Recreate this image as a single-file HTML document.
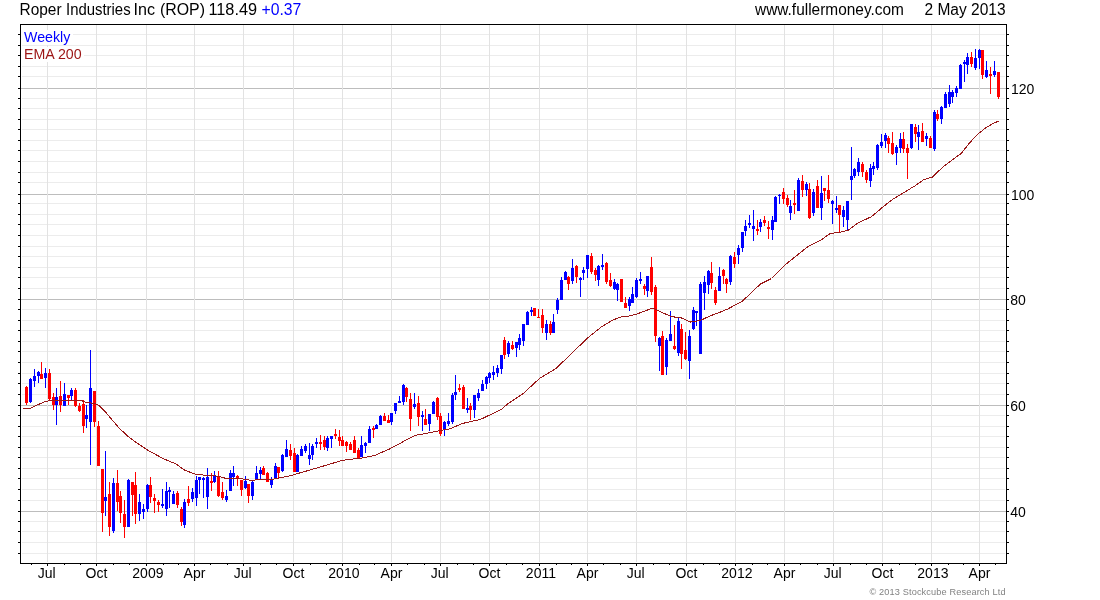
<!DOCTYPE html>
<html><head><meta charset="utf-8"><title>Roper Industries Inc (ROP)</title>
<style>html,body{margin:0;padding:0;background:#fff}body{width:1100px;height:600px;overflow:hidden}svg{display:block}text{font-family:"Liberation Sans",Arial,sans-serif}</style>
</head><body>
<svg width="1100" height="600" viewBox="0 0 1100 600" shape-rendering="crispEdges" font-family="Liberation Sans, Arial, sans-serif">
<rect x="22" y="553" width="983" height="1" fill="#ececec"/>
<rect x="22" y="542" width="983" height="1" fill="#ececec"/>
<rect x="22" y="531" width="983" height="1" fill="#ececec"/>
<rect x="22" y="521" width="983" height="1" fill="#ececec"/>
<rect x="21" y="511" width="985" height="1" fill="#bdbdbd"/>
<rect x="22" y="500" width="983" height="1" fill="#ececec"/>
<rect x="22" y="489" width="983" height="1" fill="#ececec"/>
<rect x="22" y="478" width="983" height="1" fill="#ececec"/>
<rect x="22" y="468" width="983" height="1" fill="#ececec"/>
<rect x="22" y="457" width="983" height="1" fill="#ececec"/>
<rect x="22" y="447" width="983" height="1" fill="#ececec"/>
<rect x="22" y="436" width="983" height="1" fill="#ececec"/>
<rect x="22" y="426" width="983" height="1" fill="#ececec"/>
<rect x="22" y="415" width="983" height="1" fill="#ececec"/>
<rect x="21" y="405" width="985" height="1" fill="#bdbdbd"/>
<rect x="22" y="394" width="983" height="1" fill="#ececec"/>
<rect x="22" y="383" width="983" height="1" fill="#ececec"/>
<rect x="22" y="373" width="983" height="1" fill="#ececec"/>
<rect x="22" y="362" width="983" height="1" fill="#ececec"/>
<rect x="22" y="351" width="983" height="1" fill="#ececec"/>
<rect x="22" y="341" width="983" height="1" fill="#ececec"/>
<rect x="22" y="330" width="983" height="1" fill="#ececec"/>
<rect x="22" y="320" width="983" height="1" fill="#ececec"/>
<rect x="22" y="309" width="983" height="1" fill="#ececec"/>
<rect x="21" y="299" width="985" height="1" fill="#bdbdbd"/>
<rect x="22" y="288" width="983" height="1" fill="#ececec"/>
<rect x="22" y="277" width="983" height="1" fill="#ececec"/>
<rect x="22" y="267" width="983" height="1" fill="#ececec"/>
<rect x="22" y="256" width="983" height="1" fill="#ececec"/>
<rect x="22" y="246" width="983" height="1" fill="#ececec"/>
<rect x="22" y="235" width="983" height="1" fill="#ececec"/>
<rect x="22" y="224" width="983" height="1" fill="#ececec"/>
<rect x="22" y="214" width="983" height="1" fill="#ececec"/>
<rect x="22" y="203" width="983" height="1" fill="#ececec"/>
<rect x="21" y="194" width="985" height="1" fill="#bdbdbd"/>
<rect x="22" y="182" width="983" height="1" fill="#ececec"/>
<rect x="22" y="172" width="983" height="1" fill="#ececec"/>
<rect x="22" y="161" width="983" height="1" fill="#ececec"/>
<rect x="22" y="150" width="983" height="1" fill="#ececec"/>
<rect x="22" y="140" width="983" height="1" fill="#ececec"/>
<rect x="22" y="129" width="983" height="1" fill="#ececec"/>
<rect x="22" y="119" width="983" height="1" fill="#ececec"/>
<rect x="22" y="108" width="983" height="1" fill="#ececec"/>
<rect x="22" y="98" width="983" height="1" fill="#ececec"/>
<rect x="21" y="88" width="985" height="1" fill="#bdbdbd"/>
<rect x="22" y="76" width="983" height="1" fill="#ececec"/>
<rect x="22" y="66" width="983" height="1" fill="#ececec"/>
<rect x="22" y="55" width="983" height="1" fill="#ececec"/>
<rect x="22" y="45" width="983" height="1" fill="#ececec"/>
<rect x="22" y="34" width="983" height="1" fill="#ececec"/>
<rect x="47" y="25" width="1" height="537" fill="#e2e2e2"/>
<rect x="96" y="25" width="1" height="537" fill="#e2e2e2"/>
<rect x="146" y="25" width="1" height="537" fill="#e2e2e2"/>
<rect x="194" y="25" width="1" height="537" fill="#e2e2e2"/>
<rect x="243" y="25" width="1" height="537" fill="#e2e2e2"/>
<rect x="293" y="25" width="1" height="537" fill="#e2e2e2"/>
<rect x="342" y="25" width="1" height="537" fill="#e2e2e2"/>
<rect x="391" y="25" width="1" height="537" fill="#e2e2e2"/>
<rect x="440" y="25" width="1" height="537" fill="#e2e2e2"/>
<rect x="489" y="25" width="1" height="537" fill="#e2e2e2"/>
<rect x="539" y="25" width="1" height="537" fill="#e2e2e2"/>
<rect x="587" y="25" width="1" height="537" fill="#e2e2e2"/>
<rect x="636" y="25" width="1" height="537" fill="#e2e2e2"/>
<rect x="686" y="25" width="1" height="537" fill="#e2e2e2"/>
<rect x="735" y="25" width="1" height="537" fill="#e2e2e2"/>
<rect x="784" y="25" width="1" height="537" fill="#e2e2e2"/>
<rect x="833" y="25" width="1" height="537" fill="#e2e2e2"/>
<rect x="882" y="25" width="1" height="537" fill="#e2e2e2"/>
<rect x="931" y="25" width="1" height="537" fill="#e2e2e2"/>
<rect x="979" y="25" width="1" height="537" fill="#e2e2e2"/>
<rect x="21" y="30" width="52" height="15" fill="#ffffff"/>
<rect x="21" y="47" width="63" height="15" fill="#ffffff"/>
<rect x="26" y="386" width="1" height="19" fill="#ff0000"/>
<rect x="25" y="387" width="3" height="16" fill="#ff0000"/>
<rect x="30" y="378" width="1" height="25" fill="#0000ff"/>
<rect x="29" y="379" width="3" height="23" fill="#0000ff"/>
<rect x="34" y="369" width="1" height="18" fill="#0000ff"/>
<rect x="33" y="376" width="3" height="5" fill="#0000ff"/>
<rect x="38" y="371" width="1" height="12" fill="#0000ff"/>
<rect x="37" y="372" width="3" height="4" fill="#0000ff"/>
<rect x="41" y="362" width="1" height="17" fill="#ff0000"/>
<rect x="40" y="374" width="3" height="5" fill="#ff0000"/>
<rect x="45" y="368" width="1" height="20" fill="#0000ff"/>
<rect x="44" y="373" width="3" height="5" fill="#0000ff"/>
<rect x="49" y="369" width="1" height="31" fill="#ff0000"/>
<rect x="48" y="373" width="3" height="26" fill="#ff0000"/>
<rect x="53" y="393" width="1" height="17" fill="#ff0000"/>
<rect x="52" y="397" width="3" height="8" fill="#ff0000"/>
<rect x="56" y="388" width="1" height="37" fill="#0000ff"/>
<rect x="55" y="397" width="3" height="8" fill="#0000ff"/>
<rect x="60" y="381" width="1" height="31" fill="#ff0000"/>
<rect x="59" y="396" width="3" height="9" fill="#ff0000"/>
<rect x="64" y="383" width="1" height="23" fill="#0000ff"/>
<rect x="63" y="394" width="3" height="12" fill="#0000ff"/>
<rect x="68" y="395" width="1" height="10" fill="#ff0000"/>
<rect x="67" y="395" width="3" height="3" fill="#ff0000"/>
<rect x="71" y="388" width="1" height="12" fill="#0000ff"/>
<rect x="70" y="390" width="3" height="6" fill="#0000ff"/>
<rect x="75" y="388" width="1" height="19" fill="#ff0000"/>
<rect x="74" y="390" width="3" height="16" fill="#ff0000"/>
<rect x="79" y="403" width="1" height="9" fill="#ff0000"/>
<rect x="78" y="406" width="3" height="5" fill="#ff0000"/>
<rect x="83" y="400" width="1" height="33" fill="#ff0000"/>
<rect x="82" y="404" width="3" height="22" fill="#ff0000"/>
<rect x="86" y="405" width="1" height="23" fill="#0000ff"/>
<rect x="85" y="415" width="3" height="4" fill="#0000ff"/>
<rect x="90" y="350" width="1" height="115" fill="#0000ff"/>
<rect x="89" y="388" width="3" height="34" fill="#0000ff"/>
<rect x="94" y="391" width="1" height="36" fill="#ff0000"/>
<rect x="93" y="391" width="3" height="31" fill="#ff0000"/>
<rect x="98" y="421" width="1" height="45" fill="#ff0000"/>
<rect x="97" y="426" width="3" height="40" fill="#ff0000"/>
<rect x="102" y="469" width="1" height="63" fill="#ff0000"/>
<rect x="101" y="469" width="3" height="44" fill="#ff0000"/>
<rect x="105" y="451" width="1" height="65" fill="#0000ff"/>
<rect x="104" y="497" width="3" height="4" fill="#0000ff"/>
<rect x="109" y="482" width="1" height="54" fill="#ff0000"/>
<rect x="108" y="494" width="3" height="33" fill="#ff0000"/>
<rect x="113" y="478" width="1" height="55" fill="#0000ff"/>
<rect x="112" y="483" width="3" height="48" fill="#0000ff"/>
<rect x="117" y="470" width="1" height="41" fill="#ff0000"/>
<rect x="116" y="483" width="3" height="19" fill="#ff0000"/>
<rect x="120" y="491" width="1" height="32" fill="#ff0000"/>
<rect x="119" y="496" width="3" height="17" fill="#ff0000"/>
<rect x="124" y="500" width="1" height="38" fill="#ff0000"/>
<rect x="123" y="514" width="3" height="13" fill="#ff0000"/>
<rect x="128" y="479" width="1" height="48" fill="#0000ff"/>
<rect x="127" y="480" width="3" height="47" fill="#0000ff"/>
<rect x="132" y="482" width="1" height="34" fill="#ff0000"/>
<rect x="131" y="482" width="3" height="13" fill="#ff0000"/>
<rect x="135" y="472" width="1" height="52" fill="#ff0000"/>
<rect x="134" y="485" width="3" height="29" fill="#ff0000"/>
<rect x="139" y="494" width="1" height="27" fill="#0000ff"/>
<rect x="138" y="502" width="3" height="12" fill="#0000ff"/>
<rect x="143" y="504" width="1" height="15" fill="#0000ff"/>
<rect x="142" y="509" width="3" height="3" fill="#0000ff"/>
<rect x="147" y="484" width="1" height="28" fill="#0000ff"/>
<rect x="146" y="485" width="3" height="24" fill="#0000ff"/>
<rect x="150" y="477" width="1" height="26" fill="#ff0000"/>
<rect x="149" y="485" width="3" height="12" fill="#ff0000"/>
<rect x="154" y="494" width="1" height="19" fill="#ff0000"/>
<rect x="153" y="498" width="3" height="3" fill="#ff0000"/>
<rect x="158" y="500" width="1" height="12" fill="#ff0000"/>
<rect x="157" y="502" width="3" height="3" fill="#ff0000"/>
<rect x="162" y="489" width="1" height="19" fill="#0000ff"/>
<rect x="161" y="504" width="3" height="2" fill="#0000ff"/>
<rect x="166" y="482" width="1" height="34" fill="#0000ff"/>
<rect x="165" y="491" width="3" height="18" fill="#0000ff"/>
<rect x="169" y="487" width="1" height="21" fill="#0000ff"/>
<rect x="168" y="490" width="3" height="2" fill="#0000ff"/>
<rect x="173" y="491" width="1" height="13" fill="#0000ff"/>
<rect x="172" y="494" width="3" height="10" fill="#0000ff"/>
<rect x="177" y="491" width="1" height="17" fill="#ff0000"/>
<rect x="176" y="493" width="3" height="12" fill="#ff0000"/>
<rect x="181" y="507" width="1" height="19" fill="#ff0000"/>
<rect x="180" y="509" width="3" height="13" fill="#ff0000"/>
<rect x="184" y="499" width="1" height="29" fill="#0000ff"/>
<rect x="183" y="502" width="3" height="23" fill="#0000ff"/>
<rect x="188" y="486" width="1" height="20" fill="#ff0000"/>
<rect x="187" y="499" width="3" height="4" fill="#ff0000"/>
<rect x="192" y="488" width="1" height="14" fill="#0000ff"/>
<rect x="191" y="492" width="3" height="7" fill="#0000ff"/>
<rect x="196" y="476" width="1" height="30" fill="#0000ff"/>
<rect x="195" y="480" width="3" height="18" fill="#0000ff"/>
<rect x="199" y="477" width="1" height="17" fill="#0000ff"/>
<rect x="198" y="477" width="3" height="3" fill="#0000ff"/>
<rect x="203" y="477" width="1" height="21" fill="#0000ff"/>
<rect x="202" y="478" width="3" height="2" fill="#0000ff"/>
<rect x="207" y="468" width="1" height="41" fill="#0000ff"/>
<rect x="206" y="477" width="3" height="20" fill="#0000ff"/>
<rect x="211" y="473" width="1" height="18" fill="#ff0000"/>
<rect x="210" y="481" width="3" height="2" fill="#ff0000"/>
<rect x="214" y="471" width="1" height="12" fill="#0000ff"/>
<rect x="213" y="475" width="3" height="7" fill="#0000ff"/>
<rect x="218" y="471" width="1" height="26" fill="#ff0000"/>
<rect x="217" y="477" width="3" height="19" fill="#ff0000"/>
<rect x="222" y="482" width="1" height="18" fill="#ff0000"/>
<rect x="221" y="492" width="3" height="6" fill="#ff0000"/>
<rect x="226" y="490" width="1" height="12" fill="#0000ff"/>
<rect x="225" y="496" width="3" height="4" fill="#0000ff"/>
<rect x="230" y="470" width="1" height="21" fill="#0000ff"/>
<rect x="229" y="473" width="3" height="18" fill="#0000ff"/>
<rect x="233" y="466" width="1" height="20" fill="#0000ff"/>
<rect x="232" y="473" width="3" height="4" fill="#0000ff"/>
<rect x="237" y="475" width="1" height="11" fill="#ff0000"/>
<rect x="236" y="476" width="3" height="2" fill="#ff0000"/>
<rect x="241" y="480" width="1" height="16" fill="#ff0000"/>
<rect x="240" y="480" width="3" height="10" fill="#ff0000"/>
<rect x="245" y="476" width="1" height="13" fill="#0000ff"/>
<rect x="244" y="481" width="3" height="7" fill="#0000ff"/>
<rect x="248" y="484" width="1" height="19" fill="#ff0000"/>
<rect x="247" y="484" width="3" height="12" fill="#ff0000"/>
<rect x="252" y="480" width="1" height="20" fill="#0000ff"/>
<rect x="251" y="482" width="3" height="14" fill="#0000ff"/>
<rect x="256" y="466" width="1" height="13" fill="#0000ff"/>
<rect x="255" y="473" width="3" height="6" fill="#0000ff"/>
<rect x="260" y="467" width="1" height="12" fill="#0000ff"/>
<rect x="259" y="470" width="3" height="4" fill="#0000ff"/>
<rect x="263" y="466" width="1" height="9" fill="#ff0000"/>
<rect x="262" y="468" width="3" height="7" fill="#ff0000"/>
<rect x="267" y="472" width="1" height="10" fill="#ff0000"/>
<rect x="266" y="473" width="3" height="9" fill="#ff0000"/>
<rect x="271" y="477" width="1" height="11" fill="#0000ff"/>
<rect x="270" y="480" width="3" height="5" fill="#0000ff"/>
<rect x="275" y="463" width="1" height="15" fill="#0000ff"/>
<rect x="274" y="466" width="3" height="12" fill="#0000ff"/>
<rect x="278" y="467" width="1" height="12" fill="#ff0000"/>
<rect x="277" y="467" width="3" height="6" fill="#ff0000"/>
<rect x="282" y="454" width="1" height="18" fill="#0000ff"/>
<rect x="281" y="455" width="3" height="16" fill="#0000ff"/>
<rect x="286" y="440" width="1" height="17" fill="#0000ff"/>
<rect x="285" y="449" width="3" height="8" fill="#0000ff"/>
<rect x="290" y="444" width="1" height="16" fill="#ff0000"/>
<rect x="289" y="450" width="3" height="6" fill="#ff0000"/>
<rect x="294" y="448" width="1" height="24" fill="#ff0000"/>
<rect x="293" y="453" width="3" height="19" fill="#ff0000"/>
<rect x="297" y="454" width="1" height="18" fill="#0000ff"/>
<rect x="296" y="455" width="3" height="17" fill="#0000ff"/>
<rect x="301" y="446" width="1" height="10" fill="#0000ff"/>
<rect x="300" y="449" width="3" height="7" fill="#0000ff"/>
<rect x="305" y="444" width="1" height="9" fill="#0000ff"/>
<rect x="304" y="446" width="3" height="5" fill="#0000ff"/>
<rect x="309" y="443" width="1" height="22" fill="#0000ff"/>
<rect x="308" y="455" width="3" height="4" fill="#0000ff"/>
<rect x="312" y="444" width="1" height="16" fill="#0000ff"/>
<rect x="311" y="446" width="3" height="9" fill="#0000ff"/>
<rect x="316" y="438" width="1" height="10" fill="#0000ff"/>
<rect x="315" y="442" width="3" height="2" fill="#0000ff"/>
<rect x="320" y="435" width="1" height="15" fill="#ff0000"/>
<rect x="319" y="442" width="3" height="2" fill="#ff0000"/>
<rect x="324" y="436" width="1" height="14" fill="#ff0000"/>
<rect x="323" y="440" width="3" height="7" fill="#ff0000"/>
<rect x="327" y="436" width="1" height="15" fill="#0000ff"/>
<rect x="326" y="438" width="3" height="10" fill="#0000ff"/>
<rect x="331" y="436" width="1" height="12" fill="#0000ff"/>
<rect x="330" y="436" width="3" height="3" fill="#0000ff"/>
<rect x="335" y="429" width="1" height="10" fill="#ff0000"/>
<rect x="334" y="434" width="3" height="2" fill="#ff0000"/>
<rect x="339" y="430" width="1" height="16" fill="#ff0000"/>
<rect x="338" y="437" width="3" height="4" fill="#ff0000"/>
<rect x="342" y="436" width="1" height="10" fill="#ff0000"/>
<rect x="341" y="440" width="3" height="6" fill="#ff0000"/>
<rect x="346" y="441" width="1" height="11" fill="#ff0000"/>
<rect x="345" y="442" width="3" height="4" fill="#ff0000"/>
<rect x="350" y="442" width="1" height="8" fill="#ff0000"/>
<rect x="349" y="444" width="3" height="6" fill="#ff0000"/>
<rect x="354" y="436" width="1" height="17" fill="#ff0000"/>
<rect x="353" y="440" width="3" height="13" fill="#ff0000"/>
<rect x="358" y="448" width="1" height="10" fill="#ff0000"/>
<rect x="357" y="450" width="3" height="8" fill="#ff0000"/>
<rect x="361" y="436" width="1" height="21" fill="#0000ff"/>
<rect x="360" y="445" width="3" height="12" fill="#0000ff"/>
<rect x="365" y="442" width="1" height="11" fill="#0000ff"/>
<rect x="364" y="443" width="3" height="3" fill="#0000ff"/>
<rect x="369" y="426" width="1" height="17" fill="#0000ff"/>
<rect x="368" y="429" width="3" height="14" fill="#0000ff"/>
<rect x="373" y="426" width="1" height="12" fill="#ff0000"/>
<rect x="372" y="428" width="3" height="2" fill="#ff0000"/>
<rect x="376" y="424" width="1" height="5" fill="#0000ff"/>
<rect x="375" y="425" width="3" height="4" fill="#0000ff"/>
<rect x="380" y="415" width="1" height="10" fill="#0000ff"/>
<rect x="379" y="416" width="3" height="9" fill="#0000ff"/>
<rect x="384" y="413" width="1" height="8" fill="#ff0000"/>
<rect x="383" y="416" width="3" height="5" fill="#ff0000"/>
<rect x="388" y="415" width="1" height="8" fill="#ff0000"/>
<rect x="387" y="420" width="3" height="3" fill="#ff0000"/>
<rect x="391" y="413" width="1" height="12" fill="#0000ff"/>
<rect x="390" y="413" width="3" height="9" fill="#0000ff"/>
<rect x="395" y="403" width="1" height="11" fill="#0000ff"/>
<rect x="394" y="403" width="3" height="8" fill="#0000ff"/>
<rect x="399" y="396" width="1" height="7" fill="#0000ff"/>
<rect x="398" y="401" width="3" height="2" fill="#0000ff"/>
<rect x="403" y="384" width="1" height="21" fill="#0000ff"/>
<rect x="402" y="385" width="3" height="17" fill="#0000ff"/>
<rect x="406" y="387" width="1" height="15" fill="#ff0000"/>
<rect x="405" y="388" width="3" height="9" fill="#ff0000"/>
<rect x="410" y="393" width="1" height="38" fill="#ff0000"/>
<rect x="409" y="399" width="3" height="20" fill="#ff0000"/>
<rect x="414" y="393" width="1" height="16" fill="#0000ff"/>
<rect x="413" y="404" width="3" height="3" fill="#0000ff"/>
<rect x="418" y="396" width="1" height="30" fill="#ff0000"/>
<rect x="417" y="403" width="3" height="14" fill="#ff0000"/>
<rect x="422" y="411" width="1" height="20" fill="#0000ff"/>
<rect x="421" y="415" width="3" height="2" fill="#0000ff"/>
<rect x="425" y="409" width="1" height="16" fill="#ff0000"/>
<rect x="424" y="419" width="3" height="6" fill="#ff0000"/>
<rect x="429" y="414" width="1" height="17" fill="#0000ff"/>
<rect x="428" y="414" width="3" height="10" fill="#0000ff"/>
<rect x="433" y="401" width="1" height="13" fill="#0000ff"/>
<rect x="432" y="402" width="3" height="12" fill="#0000ff"/>
<rect x="437" y="397" width="1" height="23" fill="#ff0000"/>
<rect x="436" y="398" width="3" height="19" fill="#ff0000"/>
<rect x="440" y="413" width="1" height="23" fill="#ff0000"/>
<rect x="439" y="416" width="3" height="18" fill="#ff0000"/>
<rect x="444" y="421" width="1" height="15" fill="#0000ff"/>
<rect x="443" y="422" width="3" height="8" fill="#0000ff"/>
<rect x="448" y="413" width="1" height="13" fill="#0000ff"/>
<rect x="447" y="421" width="3" height="3" fill="#0000ff"/>
<rect x="452" y="393" width="1" height="31" fill="#0000ff"/>
<rect x="451" y="395" width="3" height="27" fill="#0000ff"/>
<rect x="455" y="375" width="1" height="25" fill="#0000ff"/>
<rect x="454" y="392" width="3" height="3" fill="#0000ff"/>
<rect x="459" y="384" width="1" height="8" fill="#ff0000"/>
<rect x="458" y="388" width="3" height="2" fill="#ff0000"/>
<rect x="463" y="385" width="1" height="24" fill="#ff0000"/>
<rect x="462" y="387" width="3" height="22" fill="#ff0000"/>
<rect x="467" y="398" width="1" height="15" fill="#0000ff"/>
<rect x="466" y="408" width="3" height="2" fill="#0000ff"/>
<rect x="470" y="403" width="1" height="17" fill="#ff0000"/>
<rect x="469" y="406" width="3" height="4" fill="#ff0000"/>
<rect x="474" y="395" width="1" height="23" fill="#0000ff"/>
<rect x="473" y="395" width="3" height="15" fill="#0000ff"/>
<rect x="478" y="389" width="1" height="12" fill="#0000ff"/>
<rect x="477" y="393" width="3" height="5" fill="#0000ff"/>
<rect x="482" y="380" width="1" height="11" fill="#0000ff"/>
<rect x="481" y="384" width="3" height="7" fill="#0000ff"/>
<rect x="486" y="376" width="1" height="13" fill="#0000ff"/>
<rect x="485" y="377" width="3" height="7" fill="#0000ff"/>
<rect x="489" y="372" width="1" height="11" fill="#0000ff"/>
<rect x="488" y="373" width="3" height="5" fill="#0000ff"/>
<rect x="493" y="366" width="1" height="14" fill="#0000ff"/>
<rect x="492" y="372" width="3" height="3" fill="#0000ff"/>
<rect x="497" y="365" width="1" height="12" fill="#0000ff"/>
<rect x="496" y="368" width="3" height="5" fill="#0000ff"/>
<rect x="501" y="355" width="1" height="19" fill="#0000ff"/>
<rect x="500" y="355" width="3" height="14" fill="#0000ff"/>
<rect x="504" y="337" width="1" height="22" fill="#ff0000"/>
<rect x="503" y="340" width="3" height="15" fill="#ff0000"/>
<rect x="508" y="341" width="1" height="16" fill="#0000ff"/>
<rect x="507" y="343" width="3" height="11" fill="#0000ff"/>
<rect x="512" y="341" width="1" height="9" fill="#ff0000"/>
<rect x="511" y="345" width="3" height="4" fill="#ff0000"/>
<rect x="516" y="342" width="1" height="15" fill="#0000ff"/>
<rect x="515" y="342" width="3" height="6" fill="#0000ff"/>
<rect x="519" y="334" width="1" height="16" fill="#0000ff"/>
<rect x="518" y="338" width="3" height="7" fill="#0000ff"/>
<rect x="523" y="324" width="1" height="22" fill="#0000ff"/>
<rect x="522" y="324" width="3" height="17" fill="#0000ff"/>
<rect x="527" y="311" width="1" height="14" fill="#0000ff"/>
<rect x="526" y="312" width="3" height="13" fill="#0000ff"/>
<rect x="531" y="307" width="1" height="9" fill="#0000ff"/>
<rect x="530" y="310" width="3" height="2" fill="#0000ff"/>
<rect x="534" y="308" width="1" height="8" fill="#ff0000"/>
<rect x="533" y="308" width="3" height="8" fill="#ff0000"/>
<rect x="538" y="309" width="1" height="9" fill="#ff0000"/>
<rect x="537" y="317" width="3" height="1" fill="#ff0000"/>
<rect x="542" y="309" width="1" height="24" fill="#ff0000"/>
<rect x="541" y="315" width="3" height="13" fill="#ff0000"/>
<rect x="546" y="320" width="1" height="20" fill="#0000ff"/>
<rect x="545" y="324" width="3" height="9" fill="#0000ff"/>
<rect x="550" y="321" width="1" height="14" fill="#ff0000"/>
<rect x="549" y="324" width="3" height="9" fill="#ff0000"/>
<rect x="553" y="314" width="1" height="19" fill="#0000ff"/>
<rect x="552" y="322" width="3" height="11" fill="#0000ff"/>
<rect x="557" y="298" width="1" height="16" fill="#0000ff"/>
<rect x="556" y="300" width="3" height="10" fill="#0000ff"/>
<rect x="561" y="277" width="1" height="23" fill="#0000ff"/>
<rect x="560" y="280" width="3" height="20" fill="#0000ff"/>
<rect x="565" y="271" width="1" height="9" fill="#0000ff"/>
<rect x="564" y="272" width="3" height="8" fill="#0000ff"/>
<rect x="568" y="276" width="1" height="14" fill="#ff0000"/>
<rect x="567" y="277" width="3" height="7" fill="#ff0000"/>
<rect x="572" y="259" width="1" height="25" fill="#0000ff"/>
<rect x="571" y="268" width="3" height="13" fill="#0000ff"/>
<rect x="576" y="265" width="1" height="18" fill="#ff0000"/>
<rect x="575" y="266" width="3" height="11" fill="#ff0000"/>
<rect x="580" y="277" width="1" height="20" fill="#0000ff"/>
<rect x="579" y="278" width="3" height="2" fill="#0000ff"/>
<rect x="583" y="267" width="1" height="13" fill="#0000ff"/>
<rect x="582" y="270" width="3" height="3" fill="#0000ff"/>
<rect x="587" y="255" width="1" height="23" fill="#0000ff"/>
<rect x="586" y="255" width="3" height="14" fill="#0000ff"/>
<rect x="591" y="253" width="1" height="21" fill="#ff0000"/>
<rect x="590" y="256" width="3" height="16" fill="#ff0000"/>
<rect x="595" y="268" width="1" height="13" fill="#ff0000"/>
<rect x="594" y="270" width="3" height="5" fill="#ff0000"/>
<rect x="598" y="265" width="1" height="21" fill="#0000ff"/>
<rect x="597" y="266" width="3" height="14" fill="#0000ff"/>
<rect x="602" y="254" width="1" height="16" fill="#0000ff"/>
<rect x="601" y="265" width="3" height="2" fill="#0000ff"/>
<rect x="606" y="262" width="1" height="22" fill="#ff0000"/>
<rect x="605" y="263" width="3" height="19" fill="#ff0000"/>
<rect x="610" y="273" width="1" height="14" fill="#ff0000"/>
<rect x="609" y="280" width="3" height="6" fill="#ff0000"/>
<rect x="614" y="279" width="1" height="11" fill="#0000ff"/>
<rect x="613" y="282" width="3" height="7" fill="#0000ff"/>
<rect x="617" y="283" width="1" height="18" fill="#0000ff"/>
<rect x="616" y="284" width="3" height="6" fill="#0000ff"/>
<rect x="621" y="279" width="1" height="23" fill="#ff0000"/>
<rect x="620" y="279" width="3" height="23" fill="#ff0000"/>
<rect x="625" y="297" width="1" height="11" fill="#ff0000"/>
<rect x="624" y="303" width="3" height="5" fill="#ff0000"/>
<rect x="629" y="297" width="1" height="14" fill="#0000ff"/>
<rect x="628" y="299" width="3" height="7" fill="#0000ff"/>
<rect x="632" y="287" width="1" height="16" fill="#0000ff"/>
<rect x="631" y="294" width="3" height="9" fill="#0000ff"/>
<rect x="636" y="278" width="1" height="20" fill="#0000ff"/>
<rect x="635" y="280" width="3" height="17" fill="#0000ff"/>
<rect x="640" y="272" width="1" height="12" fill="#0000ff"/>
<rect x="639" y="279" width="3" height="2" fill="#0000ff"/>
<rect x="644" y="284" width="1" height="11" fill="#ff0000"/>
<rect x="643" y="286" width="3" height="3" fill="#ff0000"/>
<rect x="647" y="276" width="1" height="21" fill="#0000ff"/>
<rect x="646" y="276" width="3" height="15" fill="#0000ff"/>
<rect x="651" y="257" width="1" height="38" fill="#ff0000"/>
<rect x="650" y="267" width="3" height="25" fill="#ff0000"/>
<rect x="655" y="285" width="1" height="57" fill="#ff0000"/>
<rect x="654" y="287" width="3" height="49" fill="#ff0000"/>
<rect x="659" y="337" width="1" height="34" fill="#0000ff"/>
<rect x="658" y="338" width="3" height="8" fill="#0000ff"/>
<rect x="662" y="331" width="1" height="44" fill="#ff0000"/>
<rect x="661" y="336" width="3" height="39" fill="#ff0000"/>
<rect x="666" y="338" width="1" height="37" fill="#0000ff"/>
<rect x="665" y="340" width="3" height="27" fill="#0000ff"/>
<rect x="670" y="311" width="1" height="30" fill="#0000ff"/>
<rect x="669" y="334" width="3" height="7" fill="#0000ff"/>
<rect x="674" y="325" width="1" height="25" fill="#ff0000"/>
<rect x="673" y="346" width="3" height="3" fill="#ff0000"/>
<rect x="678" y="317" width="1" height="39" fill="#0000ff"/>
<rect x="677" y="321" width="3" height="32" fill="#0000ff"/>
<rect x="681" y="324" width="1" height="45" fill="#ff0000"/>
<rect x="680" y="329" width="3" height="25" fill="#ff0000"/>
<rect x="685" y="332" width="1" height="28" fill="#ff0000"/>
<rect x="684" y="350" width="3" height="9" fill="#ff0000"/>
<rect x="689" y="330" width="1" height="49" fill="#0000ff"/>
<rect x="688" y="336" width="3" height="25" fill="#0000ff"/>
<rect x="693" y="307" width="1" height="23" fill="#0000ff"/>
<rect x="692" y="310" width="3" height="19" fill="#0000ff"/>
<rect x="696" y="311" width="1" height="15" fill="#0000ff"/>
<rect x="695" y="311" width="3" height="2" fill="#0000ff"/>
<rect x="700" y="282" width="1" height="72" fill="#0000ff"/>
<rect x="699" y="284" width="3" height="70" fill="#0000ff"/>
<rect x="704" y="276" width="1" height="34" fill="#0000ff"/>
<rect x="703" y="282" width="3" height="11" fill="#0000ff"/>
<rect x="708" y="270" width="1" height="24" fill="#0000ff"/>
<rect x="707" y="271" width="3" height="14" fill="#0000ff"/>
<rect x="711" y="262" width="1" height="27" fill="#ff0000"/>
<rect x="710" y="273" width="3" height="10" fill="#ff0000"/>
<rect x="715" y="287" width="1" height="18" fill="#ff0000"/>
<rect x="714" y="290" width="3" height="13" fill="#ff0000"/>
<rect x="719" y="267" width="1" height="24" fill="#0000ff"/>
<rect x="718" y="276" width="3" height="15" fill="#0000ff"/>
<rect x="723" y="269" width="1" height="15" fill="#ff0000"/>
<rect x="722" y="270" width="3" height="6" fill="#ff0000"/>
<rect x="726" y="278" width="1" height="15" fill="#ff0000"/>
<rect x="725" y="279" width="3" height="5" fill="#ff0000"/>
<rect x="730" y="255" width="1" height="30" fill="#0000ff"/>
<rect x="729" y="256" width="3" height="26" fill="#0000ff"/>
<rect x="734" y="252" width="1" height="16" fill="#ff0000"/>
<rect x="733" y="257" width="3" height="7" fill="#ff0000"/>
<rect x="738" y="245" width="1" height="19" fill="#0000ff"/>
<rect x="737" y="248" width="3" height="7" fill="#0000ff"/>
<rect x="742" y="232" width="1" height="20" fill="#0000ff"/>
<rect x="741" y="232" width="3" height="16" fill="#0000ff"/>
<rect x="745" y="220" width="1" height="16" fill="#0000ff"/>
<rect x="744" y="226" width="3" height="5" fill="#0000ff"/>
<rect x="749" y="215" width="1" height="13" fill="#0000ff"/>
<rect x="748" y="223" width="3" height="2" fill="#0000ff"/>
<rect x="753" y="210" width="1" height="31" fill="#0000ff"/>
<rect x="752" y="226" width="3" height="3" fill="#0000ff"/>
<rect x="757" y="220" width="1" height="15" fill="#ff0000"/>
<rect x="756" y="229" width="3" height="2" fill="#ff0000"/>
<rect x="760" y="219" width="1" height="13" fill="#0000ff"/>
<rect x="759" y="222" width="3" height="5" fill="#0000ff"/>
<rect x="764" y="216" width="1" height="10" fill="#ff0000"/>
<rect x="763" y="220" width="3" height="3" fill="#ff0000"/>
<rect x="768" y="221" width="1" height="18" fill="#ff0000"/>
<rect x="767" y="227" width="3" height="2" fill="#ff0000"/>
<rect x="772" y="216" width="1" height="24" fill="#0000ff"/>
<rect x="771" y="220" width="3" height="10" fill="#0000ff"/>
<rect x="775" y="196" width="1" height="26" fill="#0000ff"/>
<rect x="774" y="197" width="3" height="25" fill="#0000ff"/>
<rect x="779" y="194" width="1" height="10" fill="#0000ff"/>
<rect x="778" y="195" width="3" height="1" fill="#0000ff"/>
<rect x="783" y="188" width="1" height="16" fill="#ff0000"/>
<rect x="782" y="192" width="3" height="7" fill="#ff0000"/>
<rect x="787" y="195" width="1" height="12" fill="#ff0000"/>
<rect x="786" y="198" width="3" height="7" fill="#ff0000"/>
<rect x="790" y="200" width="1" height="20" fill="#0000ff"/>
<rect x="789" y="206" width="3" height="7" fill="#0000ff"/>
<rect x="794" y="190" width="1" height="24" fill="#ff0000"/>
<rect x="793" y="203" width="3" height="2" fill="#ff0000"/>
<rect x="798" y="178" width="1" height="33" fill="#0000ff"/>
<rect x="797" y="180" width="3" height="31" fill="#0000ff"/>
<rect x="802" y="175" width="1" height="22" fill="#ff0000"/>
<rect x="801" y="181" width="3" height="9" fill="#ff0000"/>
<rect x="806" y="182" width="1" height="14" fill="#0000ff"/>
<rect x="805" y="184" width="3" height="6" fill="#0000ff"/>
<rect x="809" y="183" width="1" height="36" fill="#ff0000"/>
<rect x="808" y="189" width="3" height="29" fill="#ff0000"/>
<rect x="813" y="189" width="1" height="27" fill="#0000ff"/>
<rect x="812" y="192" width="3" height="21" fill="#0000ff"/>
<rect x="817" y="180" width="1" height="28" fill="#ff0000"/>
<rect x="816" y="186" width="3" height="22" fill="#ff0000"/>
<rect x="821" y="176" width="1" height="44" fill="#0000ff"/>
<rect x="820" y="193" width="3" height="15" fill="#0000ff"/>
<rect x="824" y="188" width="1" height="13" fill="#ff0000"/>
<rect x="823" y="188" width="3" height="3" fill="#ff0000"/>
<rect x="828" y="175" width="1" height="28" fill="#ff0000"/>
<rect x="827" y="190" width="3" height="9" fill="#ff0000"/>
<rect x="832" y="200" width="1" height="24" fill="#0000ff"/>
<rect x="831" y="201" width="3" height="3" fill="#0000ff"/>
<rect x="836" y="196" width="1" height="17" fill="#0000ff"/>
<rect x="835" y="208" width="3" height="2" fill="#0000ff"/>
<rect x="839" y="205" width="1" height="28" fill="#ff0000"/>
<rect x="838" y="205" width="3" height="10" fill="#ff0000"/>
<rect x="843" y="206" width="1" height="21" fill="#0000ff"/>
<rect x="842" y="210" width="3" height="7" fill="#0000ff"/>
<rect x="847" y="201" width="1" height="29" fill="#0000ff"/>
<rect x="846" y="201" width="3" height="19" fill="#0000ff"/>
<rect x="851" y="147" width="1" height="53" fill="#0000ff"/>
<rect x="850" y="176" width="3" height="4" fill="#0000ff"/>
<rect x="854" y="168" width="1" height="10" fill="#0000ff"/>
<rect x="853" y="169" width="3" height="7" fill="#0000ff"/>
<rect x="858" y="158" width="1" height="18" fill="#0000ff"/>
<rect x="857" y="162" width="3" height="10" fill="#0000ff"/>
<rect x="862" y="162" width="1" height="15" fill="#ff0000"/>
<rect x="861" y="164" width="3" height="8" fill="#ff0000"/>
<rect x="866" y="170" width="1" height="13" fill="#ff0000"/>
<rect x="865" y="172" width="3" height="8" fill="#ff0000"/>
<rect x="870" y="164" width="1" height="23" fill="#0000ff"/>
<rect x="869" y="168" width="3" height="13" fill="#0000ff"/>
<rect x="873" y="162" width="1" height="13" fill="#0000ff"/>
<rect x="872" y="166" width="3" height="3" fill="#0000ff"/>
<rect x="877" y="144" width="1" height="26" fill="#0000ff"/>
<rect x="876" y="145" width="3" height="23" fill="#0000ff"/>
<rect x="881" y="134" width="1" height="14" fill="#0000ff"/>
<rect x="880" y="142" width="3" height="4" fill="#0000ff"/>
<rect x="885" y="133" width="1" height="15" fill="#0000ff"/>
<rect x="884" y="135" width="3" height="6" fill="#0000ff"/>
<rect x="888" y="136" width="1" height="17" fill="#ff0000"/>
<rect x="887" y="138" width="3" height="6" fill="#ff0000"/>
<rect x="892" y="132" width="1" height="23" fill="#ff0000"/>
<rect x="891" y="143" width="3" height="11" fill="#ff0000"/>
<rect x="896" y="145" width="1" height="20" fill="#0000ff"/>
<rect x="895" y="147" width="3" height="6" fill="#0000ff"/>
<rect x="900" y="133" width="1" height="20" fill="#0000ff"/>
<rect x="899" y="139" width="3" height="9" fill="#0000ff"/>
<rect x="903" y="132" width="1" height="21" fill="#ff0000"/>
<rect x="902" y="139" width="3" height="10" fill="#ff0000"/>
<rect x="907" y="144" width="1" height="35" fill="#ff0000"/>
<rect x="906" y="148" width="3" height="5" fill="#ff0000"/>
<rect x="911" y="124" width="1" height="25" fill="#0000ff"/>
<rect x="910" y="124" width="3" height="24" fill="#0000ff"/>
<rect x="915" y="124" width="1" height="18" fill="#ff0000"/>
<rect x="914" y="127" width="3" height="7" fill="#ff0000"/>
<rect x="918" y="125" width="1" height="25" fill="#0000ff"/>
<rect x="917" y="132" width="3" height="5" fill="#0000ff"/>
<rect x="922" y="123" width="1" height="19" fill="#ff0000"/>
<rect x="921" y="131" width="3" height="11" fill="#ff0000"/>
<rect x="926" y="133" width="1" height="13" fill="#0000ff"/>
<rect x="925" y="136" width="3" height="3" fill="#0000ff"/>
<rect x="930" y="136" width="1" height="12" fill="#ff0000"/>
<rect x="929" y="138" width="3" height="10" fill="#ff0000"/>
<rect x="934" y="110" width="1" height="41" fill="#0000ff"/>
<rect x="933" y="112" width="3" height="37" fill="#0000ff"/>
<rect x="937" y="110" width="1" height="11" fill="#ff0000"/>
<rect x="936" y="114" width="3" height="5" fill="#ff0000"/>
<rect x="941" y="106" width="1" height="18" fill="#0000ff"/>
<rect x="940" y="107" width="3" height="12" fill="#0000ff"/>
<rect x="945" y="92" width="1" height="16" fill="#0000ff"/>
<rect x="944" y="94" width="3" height="14" fill="#0000ff"/>
<rect x="949" y="85" width="1" height="22" fill="#0000ff"/>
<rect x="948" y="92" width="3" height="12" fill="#0000ff"/>
<rect x="952" y="90" width="1" height="13" fill="#0000ff"/>
<rect x="951" y="92" width="3" height="5" fill="#0000ff"/>
<rect x="956" y="86" width="1" height="11" fill="#0000ff"/>
<rect x="955" y="88" width="3" height="5" fill="#0000ff"/>
<rect x="960" y="64" width="1" height="25" fill="#0000ff"/>
<rect x="959" y="65" width="3" height="24" fill="#0000ff"/>
<rect x="964" y="60" width="1" height="22" fill="#0000ff"/>
<rect x="963" y="62" width="3" height="2" fill="#0000ff"/>
<rect x="967" y="53" width="1" height="21" fill="#0000ff"/>
<rect x="966" y="57" width="3" height="8" fill="#0000ff"/>
<rect x="971" y="52" width="1" height="15" fill="#ff0000"/>
<rect x="970" y="57" width="3" height="7" fill="#ff0000"/>
<rect x="975" y="49" width="1" height="21" fill="#0000ff"/>
<rect x="974" y="58" width="3" height="10" fill="#0000ff"/>
<rect x="979" y="49" width="1" height="20" fill="#0000ff"/>
<rect x="978" y="50" width="3" height="8" fill="#0000ff"/>
<rect x="982" y="50" width="1" height="29" fill="#ff0000"/>
<rect x="981" y="50" width="3" height="25" fill="#ff0000"/>
<rect x="986" y="61" width="1" height="17" fill="#0000ff"/>
<rect x="985" y="70" width="3" height="7" fill="#0000ff"/>
<rect x="990" y="67" width="1" height="27" fill="#ff0000"/>
<rect x="989" y="74" width="3" height="2" fill="#ff0000"/>
<rect x="994" y="61" width="1" height="16" fill="#0000ff"/>
<rect x="993" y="71" width="3" height="4" fill="#0000ff"/>
<rect x="998" y="72" width="1" height="27" fill="#ff0000"/>
<rect x="997" y="72" width="3" height="25" fill="#ff0000"/>
<polyline fill="none" stroke="#991818" stroke-width="1" shape-rendering="crispEdges" points="23.5,408.9 31.5,407.9 38.5,404.4 42.5,402.9 44.5,401.9 49.5,400.5 65.5,400.2 81.5,400.6 86.5,402.7 94.5,403.3 98.5,405.2 104.5,410.9 118.5,427.4 127.5,435.9 133.2,440.4 147.2,449.9 163.2,458.6 176,464 185,470.4 195,474 200.5,474.5 205.5,475.5 212.5,475.6 219.5,476.5 222.5,477.5 226.5,478.5 240.5,478.6 246.5,479.5 251.5,480.5 254.5,480.4 256.5,479.5 272.5,479.4 276.5,478.5 281.5,477.5 286.5,476.5 291.5,475.5 297.5,473.6 316.9,468 342.9,460.2 362.3,458 375,455.3 389.5,449 415,435.3 426,433.5 441,430.4 449.5,429 462.3,423.5 480.5,419.4 501.5,409.4 506.9,404.5 523.2,393.6 539.5,378.5 556,368.5 579.5,345.8 587.5,338.1 601,327.2 612,320.4 621,316.9 628.5,316.2 636.9,314 645,310.9 652.9,308 664.1,313.4 671.5,316.7 680.5,317.6 690.8,322.1 698.8,320.7 702.8,319.4 709.5,316.1 720.2,312.1 727.8,309 742.3,301.2 760.5,284 771.5,278.5 785,264.9 807.8,246.7 820.5,240.4 829.5,234 834.1,233 840.5,232.2 848.5,230 858.5,222.6 871.5,216.7 883,206.9 892.5,199.4 906,191.3 915,185.8 924.1,179.4 932,177.3 942.3,167.6 951.5,160.4 960.5,154 962.3,152.1 968.5,144.2 976.5,135.3 984.8,128.5 991.5,124.4 998.5,121"/>
<rect x="20" y="24" width="987" height="1" fill="#000"/>
<rect x="20" y="563" width="987" height="1" fill="#000"/>
<rect x="20" y="24" width="1" height="540" fill="#000"/>
<rect x="1006" y="24" width="1" height="540" fill="#000"/>
<rect x="18" y="553" width="2" height="1" fill="#000"/>
<rect x="1007" y="553" width="2" height="1" fill="#000"/>
<rect x="18" y="542" width="2" height="1" fill="#000"/>
<rect x="1007" y="542" width="2" height="1" fill="#000"/>
<rect x="18" y="531" width="2" height="1" fill="#000"/>
<rect x="1007" y="531" width="2" height="1" fill="#000"/>
<rect x="18" y="521" width="2" height="1" fill="#000"/>
<rect x="1007" y="521" width="2" height="1" fill="#000"/>
<rect x="18" y="511" width="2" height="1" fill="#000"/>
<rect x="1007" y="511" width="2" height="1" fill="#000"/>
<rect x="18" y="500" width="2" height="1" fill="#000"/>
<rect x="1007" y="500" width="2" height="1" fill="#000"/>
<rect x="18" y="489" width="2" height="1" fill="#000"/>
<rect x="1007" y="489" width="2" height="1" fill="#000"/>
<rect x="18" y="478" width="2" height="1" fill="#000"/>
<rect x="1007" y="478" width="2" height="1" fill="#000"/>
<rect x="18" y="468" width="2" height="1" fill="#000"/>
<rect x="1007" y="468" width="2" height="1" fill="#000"/>
<rect x="18" y="457" width="2" height="1" fill="#000"/>
<rect x="1007" y="457" width="2" height="1" fill="#000"/>
<rect x="18" y="447" width="2" height="1" fill="#000"/>
<rect x="1007" y="447" width="2" height="1" fill="#000"/>
<rect x="18" y="436" width="2" height="1" fill="#000"/>
<rect x="1007" y="436" width="2" height="1" fill="#000"/>
<rect x="18" y="426" width="2" height="1" fill="#000"/>
<rect x="1007" y="426" width="2" height="1" fill="#000"/>
<rect x="18" y="415" width="2" height="1" fill="#000"/>
<rect x="1007" y="415" width="2" height="1" fill="#000"/>
<rect x="18" y="405" width="2" height="1" fill="#000"/>
<rect x="1007" y="405" width="2" height="1" fill="#000"/>
<rect x="18" y="394" width="2" height="1" fill="#000"/>
<rect x="1007" y="394" width="2" height="1" fill="#000"/>
<rect x="18" y="383" width="2" height="1" fill="#000"/>
<rect x="1007" y="383" width="2" height="1" fill="#000"/>
<rect x="18" y="373" width="2" height="1" fill="#000"/>
<rect x="1007" y="373" width="2" height="1" fill="#000"/>
<rect x="18" y="362" width="2" height="1" fill="#000"/>
<rect x="1007" y="362" width="2" height="1" fill="#000"/>
<rect x="18" y="351" width="2" height="1" fill="#000"/>
<rect x="1007" y="351" width="2" height="1" fill="#000"/>
<rect x="18" y="341" width="2" height="1" fill="#000"/>
<rect x="1007" y="341" width="2" height="1" fill="#000"/>
<rect x="18" y="330" width="2" height="1" fill="#000"/>
<rect x="1007" y="330" width="2" height="1" fill="#000"/>
<rect x="18" y="320" width="2" height="1" fill="#000"/>
<rect x="1007" y="320" width="2" height="1" fill="#000"/>
<rect x="18" y="309" width="2" height="1" fill="#000"/>
<rect x="1007" y="309" width="2" height="1" fill="#000"/>
<rect x="18" y="299" width="2" height="1" fill="#000"/>
<rect x="1007" y="299" width="2" height="1" fill="#000"/>
<rect x="18" y="288" width="2" height="1" fill="#000"/>
<rect x="1007" y="288" width="2" height="1" fill="#000"/>
<rect x="18" y="277" width="2" height="1" fill="#000"/>
<rect x="1007" y="277" width="2" height="1" fill="#000"/>
<rect x="18" y="267" width="2" height="1" fill="#000"/>
<rect x="1007" y="267" width="2" height="1" fill="#000"/>
<rect x="18" y="256" width="2" height="1" fill="#000"/>
<rect x="1007" y="256" width="2" height="1" fill="#000"/>
<rect x="18" y="246" width="2" height="1" fill="#000"/>
<rect x="1007" y="246" width="2" height="1" fill="#000"/>
<rect x="18" y="235" width="2" height="1" fill="#000"/>
<rect x="1007" y="235" width="2" height="1" fill="#000"/>
<rect x="18" y="224" width="2" height="1" fill="#000"/>
<rect x="1007" y="224" width="2" height="1" fill="#000"/>
<rect x="18" y="214" width="2" height="1" fill="#000"/>
<rect x="1007" y="214" width="2" height="1" fill="#000"/>
<rect x="18" y="203" width="2" height="1" fill="#000"/>
<rect x="1007" y="203" width="2" height="1" fill="#000"/>
<rect x="18" y="194" width="2" height="1" fill="#000"/>
<rect x="1007" y="194" width="2" height="1" fill="#000"/>
<rect x="18" y="182" width="2" height="1" fill="#000"/>
<rect x="1007" y="182" width="2" height="1" fill="#000"/>
<rect x="18" y="172" width="2" height="1" fill="#000"/>
<rect x="1007" y="172" width="2" height="1" fill="#000"/>
<rect x="18" y="161" width="2" height="1" fill="#000"/>
<rect x="1007" y="161" width="2" height="1" fill="#000"/>
<rect x="18" y="150" width="2" height="1" fill="#000"/>
<rect x="1007" y="150" width="2" height="1" fill="#000"/>
<rect x="18" y="140" width="2" height="1" fill="#000"/>
<rect x="1007" y="140" width="2" height="1" fill="#000"/>
<rect x="18" y="129" width="2" height="1" fill="#000"/>
<rect x="1007" y="129" width="2" height="1" fill="#000"/>
<rect x="18" y="119" width="2" height="1" fill="#000"/>
<rect x="1007" y="119" width="2" height="1" fill="#000"/>
<rect x="18" y="108" width="2" height="1" fill="#000"/>
<rect x="1007" y="108" width="2" height="1" fill="#000"/>
<rect x="18" y="98" width="2" height="1" fill="#000"/>
<rect x="1007" y="98" width="2" height="1" fill="#000"/>
<rect x="18" y="88" width="2" height="1" fill="#000"/>
<rect x="1007" y="88" width="2" height="1" fill="#000"/>
<rect x="18" y="76" width="2" height="1" fill="#000"/>
<rect x="1007" y="76" width="2" height="1" fill="#000"/>
<rect x="18" y="66" width="2" height="1" fill="#000"/>
<rect x="1007" y="66" width="2" height="1" fill="#000"/>
<rect x="18" y="55" width="2" height="1" fill="#000"/>
<rect x="1007" y="55" width="2" height="1" fill="#000"/>
<rect x="18" y="45" width="2" height="1" fill="#000"/>
<rect x="1007" y="45" width="2" height="1" fill="#000"/>
<rect x="18" y="34" width="2" height="1" fill="#000"/>
<rect x="1007" y="34" width="2" height="1" fill="#000"/>
<rect x="31" y="564" width="1" height="1" fill="#000"/>
<rect x="47" y="564" width="1" height="2" fill="#000"/>
<rect x="64" y="564" width="1" height="1" fill="#000"/>
<rect x="80" y="564" width="1" height="1" fill="#000"/>
<rect x="96" y="564" width="1" height="2" fill="#000"/>
<rect x="113" y="564" width="1" height="1" fill="#000"/>
<rect x="129" y="564" width="1" height="1" fill="#000"/>
<rect x="146" y="564" width="1" height="2" fill="#000"/>
<rect x="163" y="564" width="1" height="1" fill="#000"/>
<rect x="178" y="564" width="1" height="1" fill="#000"/>
<rect x="194" y="564" width="1" height="2" fill="#000"/>
<rect x="210" y="564" width="1" height="1" fill="#000"/>
<rect x="227" y="564" width="1" height="1" fill="#000"/>
<rect x="243" y="564" width="1" height="2" fill="#000"/>
<rect x="260" y="564" width="1" height="1" fill="#000"/>
<rect x="276" y="564" width="1" height="1" fill="#000"/>
<rect x="293" y="564" width="1" height="2" fill="#000"/>
<rect x="310" y="564" width="1" height="1" fill="#000"/>
<rect x="326" y="564" width="1" height="1" fill="#000"/>
<rect x="342" y="564" width="1" height="2" fill="#000"/>
<rect x="359" y="564" width="1" height="1" fill="#000"/>
<rect x="374" y="564" width="1" height="1" fill="#000"/>
<rect x="391" y="564" width="1" height="2" fill="#000"/>
<rect x="407" y="564" width="1" height="1" fill="#000"/>
<rect x="424" y="564" width="1" height="1" fill="#000"/>
<rect x="440" y="564" width="1" height="2" fill="#000"/>
<rect x="457" y="564" width="1" height="1" fill="#000"/>
<rect x="473" y="564" width="1" height="1" fill="#000"/>
<rect x="489" y="564" width="1" height="2" fill="#000"/>
<rect x="506" y="564" width="1" height="1" fill="#000"/>
<rect x="522" y="564" width="1" height="1" fill="#000"/>
<rect x="539" y="564" width="1" height="2" fill="#000"/>
<rect x="556" y="564" width="1" height="1" fill="#000"/>
<rect x="571" y="564" width="1" height="1" fill="#000"/>
<rect x="587" y="564" width="1" height="2" fill="#000"/>
<rect x="603" y="564" width="1" height="1" fill="#000"/>
<rect x="620" y="564" width="1" height="1" fill="#000"/>
<rect x="636" y="564" width="1" height="2" fill="#000"/>
<rect x="653" y="564" width="1" height="1" fill="#000"/>
<rect x="669" y="564" width="1" height="1" fill="#000"/>
<rect x="686" y="564" width="1" height="2" fill="#000"/>
<rect x="703" y="564" width="1" height="1" fill="#000"/>
<rect x="719" y="564" width="1" height="1" fill="#000"/>
<rect x="735" y="564" width="1" height="2" fill="#000"/>
<rect x="752" y="564" width="1" height="1" fill="#000"/>
<rect x="767" y="564" width="1" height="1" fill="#000"/>
<rect x="784" y="564" width="1" height="2" fill="#000"/>
<rect x="800" y="564" width="1" height="1" fill="#000"/>
<rect x="817" y="564" width="1" height="1" fill="#000"/>
<rect x="833" y="564" width="1" height="2" fill="#000"/>
<rect x="850" y="564" width="1" height="1" fill="#000"/>
<rect x="866" y="564" width="1" height="1" fill="#000"/>
<rect x="882" y="564" width="1" height="2" fill="#000"/>
<rect x="899" y="564" width="1" height="1" fill="#000"/>
<rect x="915" y="564" width="1" height="1" fill="#000"/>
<rect x="931" y="564" width="1" height="2" fill="#000"/>
<rect x="948" y="564" width="1" height="1" fill="#000"/>
<rect x="963" y="564" width="1" height="1" fill="#000"/>
<rect x="979" y="564" width="1" height="2" fill="#000"/>
<rect x="995" y="564" width="1" height="1" fill="#000"/>
<text x="1010.3" y="517" font-size="14" fill="#000" text-anchor="start">40</text>
<text x="1010.3" y="411" font-size="14" fill="#000" text-anchor="start">60</text>
<text x="1010.3" y="305" font-size="14" fill="#000" text-anchor="start">80</text>
<text x="1011" y="200" font-size="14" fill="#000" text-anchor="start">100</text>
<text x="1011" y="94" font-size="14" fill="#000" text-anchor="start">120</text>
<text x="46.7" y="578" font-size="14" fill="#000" text-anchor="middle">Jul</text>
<text x="96.5" y="578" font-size="14" fill="#000" text-anchor="middle">Oct</text>
<text x="147.9" y="578" font-size="14" fill="#000" text-anchor="middle">2009</text>
<text x="194.5" y="578" font-size="14" fill="#000" text-anchor="middle">Apr</text>
<text x="242.7" y="578" font-size="14" fill="#000" text-anchor="middle">Jul</text>
<text x="293.5" y="578" font-size="14" fill="#000" text-anchor="middle">Oct</text>
<text x="343.9" y="578" font-size="14" fill="#000" text-anchor="middle">2010</text>
<text x="391.5" y="578" font-size="14" fill="#000" text-anchor="middle">Apr</text>
<text x="439.7" y="578" font-size="14" fill="#000" text-anchor="middle">Jul</text>
<text x="489.5" y="578" font-size="14" fill="#000" text-anchor="middle">Oct</text>
<text x="540.9" y="578" font-size="14" fill="#000" text-anchor="middle">2011</text>
<text x="587.5" y="578" font-size="14" fill="#000" text-anchor="middle">Apr</text>
<text x="635.7" y="578" font-size="14" fill="#000" text-anchor="middle">Jul</text>
<text x="686.5" y="578" font-size="14" fill="#000" text-anchor="middle">Oct</text>
<text x="736.9" y="578" font-size="14" fill="#000" text-anchor="middle">2012</text>
<text x="784.5" y="578" font-size="14" fill="#000" text-anchor="middle">Apr</text>
<text x="832.7" y="578" font-size="14" fill="#000" text-anchor="middle">Jul</text>
<text x="882.5" y="578" font-size="14" fill="#000" text-anchor="middle">Oct</text>
<text x="932.9" y="578" font-size="14" fill="#000" text-anchor="middle">2013</text>
<text x="979.5" y="578" font-size="14" fill="#000" text-anchor="middle">Apr</text>
<text x="19.49" y="15" font-size="15.6" fill="#000" textLength="42.10" lengthAdjust="spacingAndGlyphs">Roper</text>
<text x="66.04" y="15" font-size="15.6" fill="#000" textLength="64.55" lengthAdjust="spacingAndGlyphs">Industries</text>
<text x="133.46" y="15" font-size="15.6" fill="#000" textLength="21.49" lengthAdjust="spacingAndGlyphs">Inc</text>
<text x="159.96" y="15" font-size="15.6" fill="#000" textLength="45.04" lengthAdjust="spacingAndGlyphs">(ROP)</text>
<text x="208.42" y="15" font-size="15.6" fill="#000" textLength="48.67" lengthAdjust="spacingAndGlyphs">118.49</text>
<text x="261.49" y="15" font-size="15.6" fill="#0000ff" textLength="39.89" lengthAdjust="spacingAndGlyphs">+0.37</text>
<text x="755.00" y="15" font-size="15.6" fill="#000" textLength="148.89" lengthAdjust="spacingAndGlyphs">www.fullermoney.com</text>
<text x="924.50" y="15" font-size="15.6" fill="#000" textLength="81.10" lengthAdjust="spacingAndGlyphs">2 May 2013</text>
<text x="24" y="42" font-size="14.2" fill="#0000ff" text-anchor="start">Weekly</text>
<text x="24" y="59" font-size="14.2" fill="#9c1414" text-anchor="start">EMA 200</text>
<text x="869.5" y="595" font-size="9.2" fill="#828282" textLength="136" lengthAdjust="spacing">© 2013 Stockcube Research Ltd</text>
</svg>
</body></html>
